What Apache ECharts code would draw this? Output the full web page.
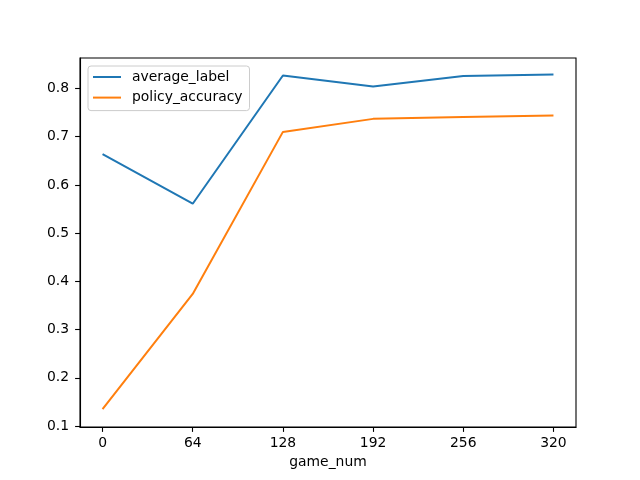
<!DOCTYPE html>
<html>
<head>
<meta charset="utf-8">
<script src="https://cdn.jsdelivr.net/npm/echarts@6/dist/echarts.min.js"></script>
<style>html,body{margin:0;padding:0;background:#fff}#c{width:640px;height:480px}</style>
</head>
<body>
<div id="c"></div>
<script>
const gameNum = [0, 64, 128, 192, 256, 320];
const averageLabel = [0.664, 0.561, 0.827, 0.804, 0.826, 0.829];
const policyAccuracy = [0.135, 0.374, 0.710, 0.737, 0.741, 0.744];
const xTicks = [0, 64, 128, 192, 256, 320];
const yTicks = [0.1, 0.2, 0.3, 0.4, 0.5, 0.6, 0.7, 0.8];

const font = 'DejaVu Sans';
const fs = 13.9;
const chart = echarts.init(document.getElementById('c'), null, {renderer: 'canvas'});
chart.setOption({
  animation: false,
  backgroundColor: '#ffffff',
  grid: {left: 80, right: 64, top: 58, bottom: 53, show: true, borderColor: '#000', borderWidth: 1.1, backgroundColor: 'transparent'},
  legend: {
    orient: 'vertical', left: 88, top: 66,
    itemWidth: 28, itemHeight: 14, itemGap: 6.6,
    padding: [4, 7, 6, 4],
    borderColor: '#cccccc', borderWidth: 1, borderRadius: 3,
    backgroundColor: 'rgba(255,255,255,0.8)',
    itemStyle: {opacity: 0},
    lineStyle: {width: 2},
    textStyle: {fontFamily: font, fontSize: fs, color: '#000', padding: [0, 0, 0, 6]},
    data: ['average_label', 'policy_accuracy']
  },
  xAxis: {
    type: 'value', min: -16, max: 336,
    name: 'game_num', nameLocation: 'middle', nameGap: 27,
    nameTextStyle: {fontFamily: font, fontSize: fs, color: '#000'},
    axisLine: {show: true, onZero: false, lineStyle: {color: '#000', width: 1.1}},
    axisTick: {show: true, length: 4.9, lineStyle: {color: '#000', width: 1.1}, customValues: xTicks},
    axisLabel: {fontFamily: font, fontSize: fs, color: '#000', margin: 9, customValues: xTicks},
    splitLine: {show: false}
  },
  yAxis: {
    type: 'value', min: 0.0981, max: 0.8632,
    axisLine: {show: true, onZero: false, lineStyle: {color: '#000', width: 1.1}},
    axisTick: {show: true, length: 4.9, lineStyle: {color: '#000', width: 1.1}, customValues: yTicks},
    axisLabel: {fontFamily: font, fontSize: fs, color: '#000', margin: 11, customValues: yTicks,
      formatter: v => v.toFixed(1)},
    splitLine: {show: false}
  },
  series: [
    {name: 'average_label', type: 'line', symbol: 'none', color: '#1f77b4',
     lineStyle: {width: 2, color: '#1f77b4'},
     data: gameNum.map((x, i) => [x, averageLabel[i]])},
    {name: 'policy_accuracy', type: 'line', symbol: 'none', color: '#ff7f0e',
     lineStyle: {width: 2, color: '#ff7f0e'},
     data: gameNum.map((x, i) => [x, policyAccuracy[i]])}
  ]
});
</script>
</body>
</html>
